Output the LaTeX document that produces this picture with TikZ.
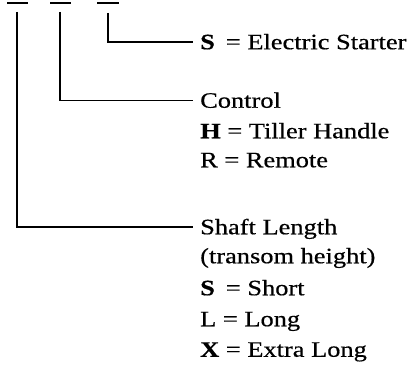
\documentclass[tikz,border=0pt]{standalone}
\usepackage{fontspec}
\setmainfont{Liberation Serif}[FakeBold=0.5, BoldFeatures={FakeBold=0.5}]
\begin{document}
\begin{tikzpicture}[x=1pt,y=-1pt,
  rule/.style={line width=1.8pt, line cap=butt},
  lab/.style={anchor=west, inner xsep=7pt, inner ysep=0pt, text height=14.5pt, text depth=0pt, font=\fontsize{22}{28}\selectfont},
  blank/.style={line width=2pt}]
\newcommand{\wide}[1]{\scalebox{1.2}[1]{#1}}
\useasboundingbox (0,0) rectangle (411,366);
% blanks
\draw[blank] (7,3) -- (28,3);
\draw[blank] (50,3) -- (71,3);
\draw[blank] (97,3) -- (119,3);
\coordinate (t1) at (17,12);
\coordinate (t2) at (60,12);
\coordinate (t3) at (108,13);
% labels
\node[lab] (s) at (193,42) {\wide{\textbf{S}\, = Electric Starter}};
\node[lab] (c) at (193,100.5) {\wide{Control}};
\node[lab] (h) at (193,131) {\wide{\textbf{H} = Tiller Handle}};
\node[lab] (r) at (193,160) {\wide{R = Remote}};
\node[lab] (l) at (193,227) {\wide{Shaft Length}};
\node[lab] (tr) at (193,256) {\wide{(transom height)}};
\node[lab] (ss) at (193,288) {\wide{\textbf{S}\, = Short}};
\node[lab] (ll) at (193,319) {\wide{L = Long}};
\node[lab] (xx) at (193,349.5) {\wide{\textbf{X} = Extra Long}};
% connectors
\draw[rule] (t3) |- (s.west);
\draw[rule] (t2) |- (c.west);
\draw[rule] (t1) |- (l.west);
\end{tikzpicture}
\end{document}
